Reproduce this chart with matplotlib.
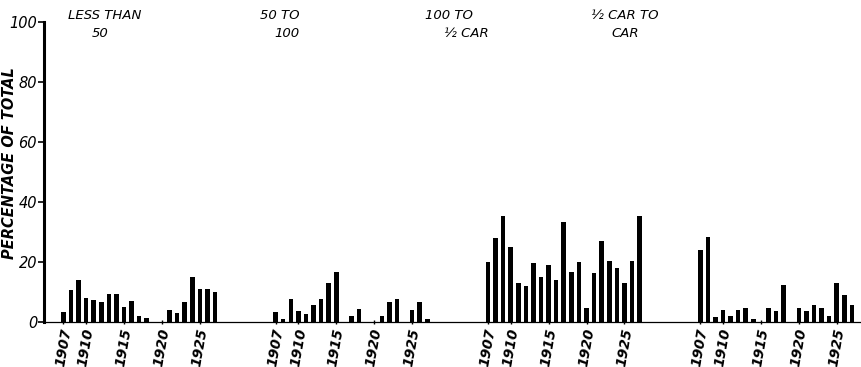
import numpy as np
import matplotlib
matplotlib.use("Agg")
import matplotlib.pyplot as plt

years = list(range(1907, 1928))
group_titles = [("LESS THAN", "50"), ("50 TO", "100"), ("100 TO", "½ CAR"), ("½ CAR TO", "CAR")]
less_than_50 = [3.2, 10.8, 14.0, 8.0, 7.3, 6.8, 9.2, 9.2, 5.1, 7.1, 2.0, 1.4, 0, 0, 4.0, 2.9, 6.7, 14.9, 10.9, 10.9, 10.0]
from_50_to_100 = [3.3, 1.1, 7.8, 3.7, 2.8, 5.6, 7.8, 13.1, 16.8, 0, 2.0, 4.4, 0, 0, 2.0, 6.7, 7.8, 0, 3.9, 6.7, 1.1]
from_100_to_half_car = [20.0, 28.0, 35.3, 25.1, 13.0, 12.1, 19.8, 14.9, 19.0, 14.0, 33.4, 16.8, 20.0, 4.8, 16.2, 27.1, 20.2, 18.1, 13.1, 20.4, 35.3]
half_car_to_car = [24.1, 28.3, 1.8, 3.9, 2.0, 3.9, 4.8, 1.1, 0, 4.8, 3.7, 12.2, 0, 4.8, 3.7, 5.6, 4.8, 1.9, 13.0, 8.9, 5.6]
series = [less_than_50, from_50_to_100, from_100_to_half_car, half_car_to_car]
tick_years = [1907, 1910, 1915, 1920, 1925]
y_ticks = [0, 20, 40, 60, 80, 100]

GROUP_STEP = 28
W, H = 861, 367
fig = plt.figure(figsize=(W / 100, H / 100), dpi=100)
ax = fig.add_axes([44 / W, 1 - 322 / H, 1 - 44 / W, 300 / H])

font = dict(family="DejaVu Sans", style="italic")

xt, xl = [], []
for g, vals in enumerate(series):
    x = g * GROUP_STEP + np.arange(len(years))
    ax.bar(x, vals, width=0.6, color="black", zorder=3)
    for ty in tick_years:
        xt.append(g * GROUP_STEP + (ty - 1907))
        xl.append(str(ty))

ax.set_xlim(-2.55, 105.2)
ax.set_ylim(0, 100)
ax.set_xticks(xt)
ax.set_xticklabels(xl, rotation=80, fontsize=10, fontstyle="italic", fontweight="semibold",
                   ha="center", va="top")
ax.set_yticks(y_ticks)
ax.set_yticklabels([str(v) for v in y_ticks], fontsize=10.5, fontstyle="italic")
ax.tick_params(axis="y", length=4, width=1.2, pad=1)
ax.tick_params(axis="x", length=3, width=1, pad=2, direction="inout")

for s in ["top", "right"]:
    ax.spines[s].set_visible(False)
ax.spines["left"].set_linewidth(2.2)
ax.spines["bottom"].set_linewidth(0.9)

ax.text((10 - 44) / (W - 44), 0.53, "PERCENTAGE OF TOTAL", transform=ax.transAxes, rotation=90,
        ha="center", va="center", fontsize=10.5, fontweight="semibold", **font)

title_pos = [(5.5, 4.8), (28.5, 29.5), (50.8, 53.1), (74.0, 74.1)]
for (l1, l2), (x1, x2) in zip(group_titles, title_pos):
    ax.text(x1, 1.023, l1, transform=ax.get_xaxis_transform(), ha="center", va="center",
            fontsize=9.5, clip_on=False, **font)
    ax.text(x2, 0.963, l2, transform=ax.get_xaxis_transform(), ha="center", va="center",
            fontsize=9.5, clip_on=False, **font)

fig.savefig("out.png", dpi=100)
